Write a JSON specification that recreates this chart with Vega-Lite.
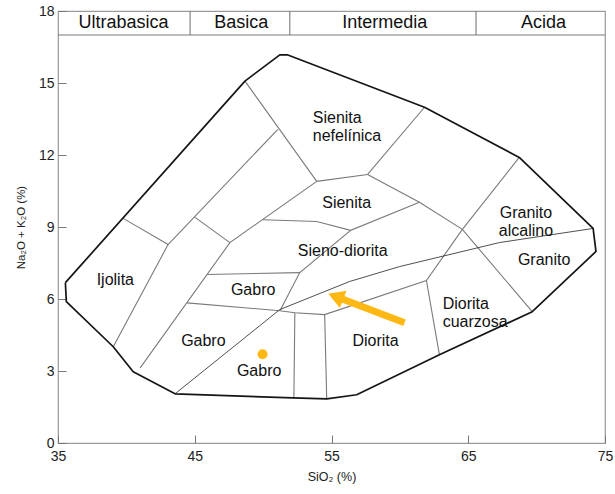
{
  "$schema": "https://vega.github.io/schema/vega-lite/v6.json",
  "width": 547,
  "height": 432,
  "autosize": {"type": "none"},
  "padding": {"left": 58, "top": 11, "right": 10, "bottom": 51},
  "background": "white",
  "config": {
    "view": {"stroke": "#9a9a9a", "strokeWidth": 1.2},
    "font": "Liberation Sans",
    "axis": {
      "grid": false, "domain": false, "tickColor": "#777", "tickSize": -8, "tickWidth": 1,
      "labelFont": "Liberation Sans", "labelFontSize": 14, "labelColor": "#222",
      "labelFlush": false, "labelOverlap": false,
      "titleFont": "Liberation Sans", "titleFontSize": 12.5, "titleFontWeight": "normal", "titleColor": "#222"
    }
  },
  "datasets": {
    "lines": [
      {"g": "outer", "i": 0, "x": 35.54, "y": 6.68},
      {"g": "outer", "i": 1, "x": 35.61, "y": 5.89},
      {"g": "outer", "i": 2, "x": 39.04, "y": 4.01},
      {"g": "outer", "i": 3, "x": 40.5, "y": 2.97},
      {"g": "outer", "i": 4, "x": 43.56, "y": 2.05},
      {"g": "outer", "i": 5, "x": 52.17, "y": 1.88},
      {"g": "outer", "i": 6, "x": 54.65, "y": 1.84},
      {"g": "outer", "i": 7, "x": 56.84, "y": 2.01},
      {"g": "outer", "i": 8, "x": 62.89, "y": 3.68},
      {"g": "outer", "i": 9, "x": 69.68, "y": 5.47},
      {"g": "outer", "i": 10, "x": 74.34, "y": 7.98},
      {"g": "outer", "i": 11, "x": 74.13, "y": 8.94},
      {"g": "outer", "i": 12, "x": 68.73, "y": 11.9},
      {"g": "outer", "i": 13, "x": 61.8, "y": 13.99},
      {"g": "outer", "i": 14, "x": 51.81, "y": 16.17},
      {"g": "outer", "i": 15, "x": 51.22, "y": 16.17},
      {"g": "outer", "i": 16, "x": 48.67, "y": 15.08},
      {"g": "outer", "i": 17, "x": 35.54, "y": 6.68}
    ],
    "inner": [
      {"g": "A", "i": 0, "x": 39.77, "y": 9.36},
      {"g": "A", "i": 1, "x": 43.05, "y": 8.27},
      {"g": "A", "i": 2, "x": 39.04, "y": 4.01},
      {"g": "B", "i": 0, "x": 43.05, "y": 8.27},
      {"g": "B", "i": 1, "x": 51.08, "y": 13.07},
      {"g": "C", "i": 0, "x": 45.02, "y": 9.4},
      {"g": "C", "i": 1, "x": 47.57, "y": 8.35},
      {"g": "D", "i": 0, "x": 41.01, "y": 3.13},
      {"g": "D", "i": 1, "x": 47.57, "y": 8.35},
      {"g": "D", "i": 2, "x": 53.92, "y": 10.9},
      {"g": "E", "i": 0, "x": 48.67, "y": 15.08},
      {"g": "E", "i": 1, "x": 53.92, "y": 10.9},
      {"g": "F", "i": 0, "x": 53.92, "y": 10.9},
      {"g": "F", "i": 1, "x": 57.64, "y": 11.19},
      {"g": "G", "i": 0, "x": 57.64, "y": 11.19},
      {"g": "G", "i": 1, "x": 61.8, "y": 13.99},
      {"g": "H", "i": 0, "x": 57.64, "y": 11.19},
      {"g": "H", "i": 1, "x": 61.43, "y": 10.03},
      {"g": "H", "i": 2, "x": 64.57, "y": 8.9},
      {"g": "H", "i": 3, "x": 69.68, "y": 5.47},
      {"g": "I", "i": 0, "x": 64.57, "y": 8.9},
      {"g": "I", "i": 1, "x": 68.73, "y": 11.9},
      {"g": "J", "i": 0, "x": 49.98, "y": 9.3},
      {"g": "J", "i": 1, "x": 53.92, "y": 9.23},
      {"g": "J", "i": 2, "x": 56.4, "y": 8.86},
      {"g": "J", "i": 3, "x": 61.43, "y": 10.03},
      {"g": "K", "i": 0, "x": 56.4, "y": 8.86},
      {"g": "K", "i": 1, "x": 52.68, "y": 7.1},
      {"g": "K", "i": 2, "x": 51.25, "y": 5.53},
      {"g": "L", "i": 0, "x": 45.9, "y": 7.02},
      {"g": "L", "i": 1, "x": 52.68, "y": 7.1},
      {"g": "M", "i": 0, "x": 44.44, "y": 5.84},
      {"g": "M", "i": 1, "x": 51.22, "y": 5.51},
      {"g": "M", "i": 2, "x": 52.32, "y": 5.43},
      {"g": "M", "i": 3, "x": 54.5, "y": 5.35},
      {"g": "M", "i": 4, "x": 61.94, "y": 6.77},
      {"g": "M", "i": 5, "x": 64.57, "y": 8.9},
      {"g": "N", "i": 0, "x": 61.94, "y": 6.77},
      {"g": "N", "i": 1, "x": 62.89, "y": 3.68},
      {"g": "O", "i": 0, "x": 52.32, "y": 5.43},
      {"g": "O", "i": 1, "x": 52.25, "y": 1.88},
      {"g": "P", "i": 0, "x": 54.5, "y": 5.35},
      {"g": "P", "i": 1, "x": 54.65, "y": 1.84},
      {"g": "band", "i": 0, "x": 35, "y": 17},
      {"g": "band", "i": 1, "x": 75, "y": 17},
      {"g": "d1", "i": 0, "x": 44.66, "y": 17},
      {"g": "d1", "i": 1, "x": 44.66, "y": 18},
      {"g": "d2", "i": 0, "x": 51.95, "y": 17},
      {"g": "d2", "i": 1, "x": 51.95, "y": 18},
      {"g": "d3", "i": 0, "x": 65.57, "y": 17},
      {"g": "d3", "i": 1, "x": 65.57, "y": 18}
    ],
    "divide": [
      {"i": 0, "x": 43.56, "y": 2.05},
      {"i": 1, "x": 51.22, "y": 5.56},
      {"i": 2, "x": 56.33, "y": 6.73},
      {"i": 3, "x": 59.97, "y": 7.35},
      {"i": 4, "x": 67.27, "y": 8.35},
      {"i": 5, "x": 74.13, "y": 8.94}
    ],
    "labelsC": [
      {"t": "Sienita", "x": 56.11, "y": 9.98},
      {"t": "Sieno-diorita", "x": 55.82, "y": 7.98},
      {"t": "Gabro", "x": 49.27, "y": 6.39},
      {"t": "Gabro", "x": 45.63, "y": 4.23},
      {"t": "Gabro", "x": 49.71, "y": 3.02},
      {"t": "Ijolita", "x": 39.19, "y": 6.81},
      {"t": "Diorita", "x": 58.22, "y": 4.23},
      {"t": "Granito\nalcalino", "x": 69.22, "y": 9.57},
      {"t": "Granito", "x": 70.55, "y": 7.64}
    ],
    "labelsL": [
      {"t": "Sienita\nnefelínica", "x": 53.63, "y": 13.53},
      {"t": "Diorita\ncuarzosa", "x": 63.13, "y": 5.81}
    ],
    "band": [
      {"t": "Ultrabasica", "x": 39.79, "y": 17.5},
      {"t": "Basica", "x": 48.4, "y": 17.5},
      {"t": "Intermedia", "x": 58.9, "y": 17.5},
      {"t": "Acida", "x": 70.5, "y": 17.5}
    ],
    "arrow": [
      {"i": 0, "x": 60.34, "y": 5.01},
      {"i": 1, "x": 55.6, "y": 6.04}
    ],
    "head": [{"x": 55.31, "y": 6.1}],
    "sample": [{"x": 49.96, "y": 3.7}]
  },
  "encoding": {
    "x": {
      "field": "x", "type": "quantitative",
      "scale": {"domain": [35, 75], "nice": false, "zero": false},
      "axis": {"values": [35, 45, 55, 65, 75], "title": "SiO₂ (%)", "labelPadding": 14, "titlePadding": 7}
    },
    "y": {
      "field": "y", "type": "quantitative",
      "scale": {"domain": [0, 18], "nice": false, "zero": false},
      "axis": {"values": [0, 3, 6, 9, 12, 15, 18], "title": "Na₂O + K₂O (%)", "labelPadding": 12, "titlePadding": 12,
               "titleFont": "Liberation Sans Narrow, Liberation Sans", "titleFontSize": 11.5}
    }
  },
  "layer": [
    {
      "data": {"name": "inner"},
      "mark": {"type": "line", "stroke": "#7a7a7a", "strokeWidth": 1.1},
      "encoding": {"detail": {"field": "g"}, "order": {"field": "i", "type": "quantitative"}}
    },
    {
      "data": {"name": "divide"},
      "mark": {"type": "line", "stroke": "#222", "strokeWidth": 0.8},
      "encoding": {"order": {"field": "i", "type": "quantitative"}}
    },
    {
      "data": {"name": "lines"},
      "mark": {"type": "line", "stroke": "#151515", "strokeWidth": 1.7, "strokeJoin": "round"},
      "encoding": {"detail": {"field": "g"}, "order": {"field": "i", "type": "quantitative"}}
    },
    {
      "data": {"name": "labelsC"},
      "mark": {"type": "text", "fontSize": 16, "color": "#111", "align": "center", "baseline": "middle", "lineBreak": "\n", "lineHeight": 18},
      "encoding": {"text": {"field": "t"}}
    },
    {
      "data": {"name": "labelsL"},
      "mark": {"type": "text", "fontSize": 16, "color": "#111", "align": "left", "baseline": "middle", "lineBreak": "\n", "lineHeight": 18},
      "encoding": {"text": {"field": "t"}}
    },
    {
      "data": {"name": "band"},
      "mark": {"type": "text", "fontSize": 18, "color": "#111", "align": "center", "baseline": "middle"},
      "encoding": {"text": {"field": "t"}}
    },
    {
      "data": {"name": "arrow"},
      "mark": {"type": "line", "stroke": "#FDB813", "strokeWidth": 7, "strokeCap": "butt"},
      "encoding": {"order": {"field": "i", "type": "quantitative"}}
    },
    {
      "data": {"name": "head"},
      "mark": {"type": "point", "shape": "triangle-up", "filled": true, "color": "#FDB813", "size": 340, "angle": 291, "opacity": 1}
    },
    {
      "data": {"name": "sample"},
      "mark": {"type": "point", "shape": "circle", "filled": true, "color": "#FDB813", "size": 100, "opacity": 1}
    }
  ]
}
